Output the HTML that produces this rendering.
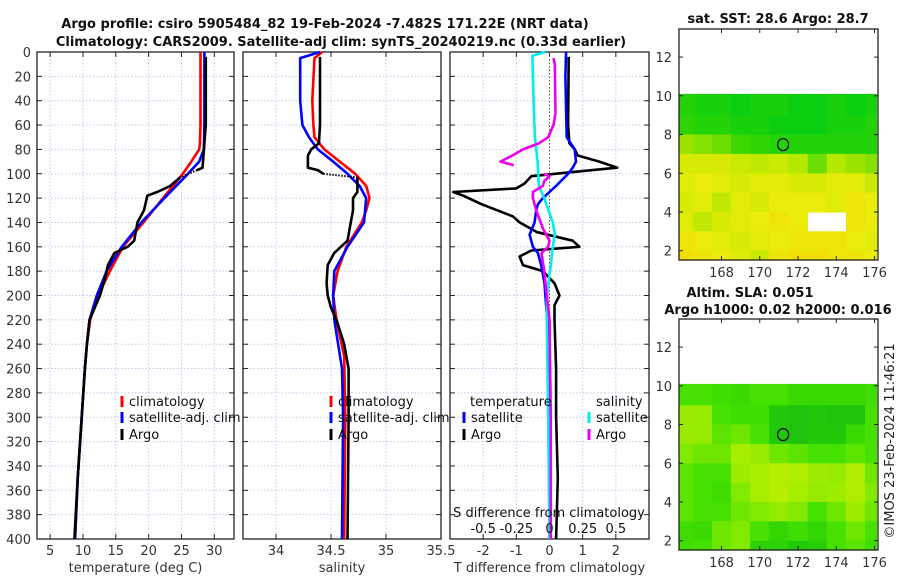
<!DOCTYPE html>
<html><head><meta charset="utf-8"><style>
html,body{margin:0;padding:0;background:#fff;}
svg text{font-family:"DejaVu Sans","Liberation Sans",sans-serif;}
</style></head><body>
<svg id="fig" xmlns="http://www.w3.org/2000/svg" width="900" height="580" viewBox="0 0 900 580">
<rect width="900" height="580" fill="#fff"/>
<text x="325" y="28" font-size="13" font-weight="bold" text-anchor="middle" fill="#111">Argo profile: csiro 5905484_82 19-Feb-2024 -7.482S 171.22E (NRT data)</text>
<text x="341" y="46" font-size="13" font-weight="bold" text-anchor="middle" fill="#111">Climatology: CARS2009. Satellite-adj clim: synTS_20240219.nc (0.33d earlier)</text>
<g id="g"></g>
<text x="778" y="23" font-size="13" font-weight="bold" text-anchor="middle" fill="#111">sat. SST: 28.6 Argo: 28.7</text>
<text x="750" y="297" font-size="13" font-weight="bold" text-anchor="middle" fill="#111">Altim. SLA: 0.051</text>
<text x="778" y="314" font-size="13" font-weight="bold" text-anchor="middle" fill="#111">Argo h1000: 0.02 h2000: 0.016</text>
<text x="0" y="0" font-size="13" text-anchor="middle" fill="#222" transform="translate(894,441) rotate(-90)">©IMOS 23-Feb-2024 11:46:21</text>
</svg>
<script>
// ---- profile data (depth in m) ----
const tClimDepth = [0,60,75,80,90,100,120,140,160,180,200,220,240,260,300,350,400];
const tClimVal   = [27.9,27.9,27.8,27.7,26.5,25.2,22.2,19.2,16.1,14.1,12.3,11.1,10.6,10.3,9.8,9.2,8.8];
const tSatDepth  = [0,60,80,90,100,120,140,160,180,200,220,240,260,300,350,400];
const tSatVal    = [28.5,28.5,28.4,27.7,26.0,22.4,18.9,15.9,13.6,12.1,11.0,10.6,10.3,9.8,9.2,8.8];
const tArgoDepth = [4,60,95,97,103,110,115,118,130,140,155,160,165,175,185,200,220,240,260,300,350,400];
const tArgoVal   = [28.7,28.7,28.2,27.4,24.8,23.3,21.3,19.8,19.3,18.3,17.8,16.8,14.8,13.8,13.4,12.6,11.0,10.6,10.3,9.8,9.2,8.7];

const sClimDepth = [0,5,40,60,70,80,90,100,110,120,130,140,160,180,200,220,250,300,400];
const sClimVal   = [34.42,34.35,34.33,34.34,34.35,34.44,34.58,34.72,34.82,34.85,34.82,34.78,34.64,34.56,34.52,34.55,34.62,34.63,34.62];
const sSatDepth  = [0,5,40,60,70,80,90,100,110,120,140,160,180,200,220,260,300,400];
const sSatVal    = [34.40,34.22,34.22,34.24,34.30,34.38,34.52,34.65,34.76,34.82,34.80,34.65,34.53,34.52,34.53,34.60,34.61,34.60];
const sArgoDepth = [4,60,75,80,85,95,97,100,103,115,120,130,140,155,165,175,190,200,210,220,240,260,300,400];
const sArgoVal   = [34.40,34.40,34.39,34.32,34.29,34.29,34.38,34.43,34.74,34.74,34.70,34.70,34.68,34.65,34.53,34.47,34.46,34.47,34.50,34.55,34.62,34.66,34.66,34.65];

const dTSatDepth = [0,20,70,80,90,95,100,110,120,125,130,140,150,160,165,175,190,220,300,400];
const dTSatVal   = [0.5,0.48,0.52,0.76,0.8,0.7,0.56,0.2,-0.2,-0.35,-0.4,-0.45,-0.6,-0.5,-0.35,-0.25,-0.15,-0.07,-0.02,0.0];
const dTArgoDepth = [4,60,75,80,85,90,95,97,102,108,112,115,118,125,135,140,148,155,160,163,168,175,180,190,200,208,220,260,300,350,400];
const dTArgoVal   = [0.58,0.56,0.6,0.76,0.85,1.5,2.04,1.3,-0.55,-0.75,-1.0,-2.9,-2.6,-2.05,-1.1,-0.9,-0.37,0.7,0.9,-0.55,-0.9,-0.8,-0.2,0.15,0.3,0.15,0.15,0.2,0.2,0.25,0.2];
const dSSatDepth = [0,3,40,70,90,110,120,140,150,160,175,200,220,300,400];
const dSSatVal   = [-0.03,-0.13,-0.12,-0.11,-0.09,-0.08,-0.04,0.025,0.04,0.025,0.01,-0.02,-0.02,-0.01,0.0];
const dSArgoDepth = [5,10,50,60,70,75,80,85,90,93];
const dSArgoVal   = [0.03,0.04,0.045,0.03,-0.01,-0.08,-0.2,-0.28,-0.37,-0.27];
const dSArgo2Depth = [100,102,106,110,115,120,130,145,155,160,165,180,200,220,300,400];
const dSArgo2Val   = [-0.04,0.0,-0.04,-0.05,-0.125,-0.125,-0.1,-0.05,0.0,-0.01,-0.06,-0.04,-0.02,0.0,0.01,0.01];

const depthTicks = [0,20,40,60,80,100,120,140,160,180,200,220,240,260,280,300,320,340,360,380,400];
const tTicks = [5,10,15,20,25,30];
const sTicks = [34,34.5,35,35.5];
const dTicks = [-2,-1,0,1,2];
const dSTickLabels = ["-0.5","-0.25","0","0.25","0.5"];
const dSTickVals = [-0.5,-0.25,0,0.25,0.5];

// ---- map data: rows lat bands from 10.1 down to 1.52, cols lon 166..176 ----
const mapLons = [166,167,168,169,170,171,172,173,174,175,176];
const mapLatEdges = [10.1,9,8,7,6,5,4,3,2,1.52];
const sstGrid = [
 [0.85,0.9,0.9,0.95,0.9,0.9,0.95,0.95,0.9,0.95,0.9],
 [0.8,0.85,0.85,0.9,0.9,0.95,0.95,0.95,0.9,0.9,0.85],
 [0.55,0.6,0.65,0.75,0.8,0.85,0.85,0.85,0.85,0.85,0.85],
 [0.35,0.35,0.35,0.4,0.45,0.4,0.5,0.65,0.5,0.55,0.6],
 [0.3,0.25,0.3,0.35,0.3,0.3,0.35,0.35,0.3,0.3,0.4],
 [0.35,0.3,0.45,0.3,0.35,0.25,0.25,0.25,0.3,0.2,0.25],
 [0.3,0.45,0.35,0.3,0.25,0.2,0.25,null,null,0.2,0.25],
 [0.2,0.25,0.3,0.35,0.3,0.25,0.2,0.2,0.2,0.25,0.3],
 [0.15,0.2,0.25,0.3,0.4,0.2,0.15,0.15,0.2,0.2,0.25]];
const slaGrid = [
 [0.5,0.5,0.55,0.6,0.5,0.5,0.6,0.6,0.6,0.6,0.55],
 [0.3,0.3,0.5,0.55,0.55,0.8,0.85,0.8,0.85,0.85,0.5],
 [0.3,0.3,0.45,0.4,0.5,0.8,0.85,0.8,0.8,0.6,0.5],
 [0.35,0.4,0.4,0.2,0.3,0.4,0.45,0.5,0.5,0.45,0.5],
 [0.45,0.5,0.5,0.25,0.2,0.1,0.15,0.25,0.3,0.15,0.4],
 [0.45,0.5,0.55,0.35,0.2,0.1,0.2,0.3,0.25,0.15,0.35],
 [0.45,0.5,0.5,0.4,0.35,0.3,0.35,0.5,0.4,0.25,0.4],
 [0.55,0.6,0.4,0.35,0.5,0.65,0.55,0.65,0.5,0.4,0.5],
 [0.55,0.5,0.4,0.35,0.7,0.7,0.8,0.75,0.5,0.45,0.55]];
const argoLon = 171.22, argoLat = 7.48;
const mapXTicks = [168,170,172,174,176];
const mapYTicks = [2,4,6,8,10,12];

const NS="http://www.w3.org/2000/svg";
const G=document.getElementById('g');
function mk(tag,attrs,parent){const e=document.createElementNS(NS,tag);for(const k in attrs)e.setAttribute(k,attrs[k]);(parent||G).appendChild(e);return e;}
const Y0=52,Y1=539;
function dy(d){return Y0+(d/400)*(Y1-Y0);}
function lin(a,b,p,q){return v=>p+(v-a)/(b-a)*(q-p);}
const panels=[
 {name:'temperature',x0:37,x1:234,lo:3,hi:33,ticks:tTicks,lab:'temperature (deg C)'},
 {name:'salinity',x0:243,x1:441,lo:33.7,hi:35.5,ticks:sTicks,lab:'salinity'},
 {name:'difference',x0:450,x1:649,lo:-3,hi:3,ticks:dTicks,lab:'T difference from climatology'}];
panels.forEach((p,pi)=>{
  p.sx=lin(p.lo,p.hi,p.x0,p.x1);
  const ax=mk('g',{});
  
  
  p.ticks.forEach(t=>{const x=p.sx(t);
    mk('line',{x1:x,x2:x,y1:Y0,y2:Y1,stroke:'#c4c8e6','stroke-width':1,'stroke-dasharray':'1.5 2'},ax);
    mk('line',{x1:x,x2:x,y1:Y1,y2:Y1-5,stroke:'#222'},ax);mk('line',{x1:x,x2:x,y1:Y0,y2:Y0+5,stroke:'#222'},ax);
    const tl=mk('text',{x:x,y:555,'font-size':13,'text-anchor':'middle',fill:'#333'},ax);tl.textContent=String(t);
    
    });
  depthTicks.forEach(d=>{const y=dy(d);
    mk('line',{x1:p.x0,x2:p.x1,y1:y,y2:y,stroke:'#c4c8e6','stroke-width':1,'stroke-dasharray':'1.5 2'},ax);
    mk('line',{x1:p.x0,x2:p.x0+5,y1:y,y2:y,stroke:'#222'},ax);mk('line',{x1:p.x1,x2:p.x1-5,y1:y,y2:y,stroke:'#222'},ax);
    if(pi===0){const tl=mk('text',{x:31,y:y+5,'font-size':13,'text-anchor':'end',fill:'#333'},ax);tl.textContent=String(d);
      
      }});
  mk('rect',{x:p.x0,y:Y0,width:p.x1-p.x0,height:Y1-Y0,fill:'none',stroke:'#222','stroke-width':1.3},ax);
  const lb=mk('text',{x:(p.x0+p.x1)/2,y:572,'font-size':13,'text-anchor':'middle',fill:'#333'},ax);lb.textContent=p.lab;
  
  
});
// draw polyline from index a to b (inclusive); dotted if dash given
function seg(p,depths,vals,a,b,color,name,scale,dash){
  const s=scale||1;
  const pts=[];
  for(let i=a;i<=b;i++)pts.push(p.sx(vals[i]*s).toFixed(1)+','+dy(depths[i]).toFixed(1));
  const e=mk('polyline',{points:pts.join(' '),fill:'none',stroke:color,'stroke-width':dash?2:2.6,'stroke-linejoin':'round'});
  if(dash)e.setAttribute('stroke-dasharray',dash);
  
  
}
function line(p,depths,vals,color,name,scale){seg(p,depths,vals,0,depths.length-1,color,name,scale);}
// line with dotted gap at depths between gapA and gapB
function gapLine(p,depths,vals,gapA,gapB,color,name,scale){
  const ia=depths.findIndex(d=>d>=gapA), ib=depths.findIndex(d=>d>=gapB);
  seg(p,depths,vals,0,ia,color,name+'-upper',scale);
  seg(p,depths,vals,ia,ib,color,name+'-gap',scale,'1.5 1.5');
  seg(p,depths,vals,ib,depths.length-1,color,name+'-lower',scale);
}
const P1=panels[0],P2=panels[1],P3=panels[2];
const z=mk('line',{x1:P3.sx(0),x2:P3.sx(0),y1:Y0,y2:Y1,stroke:'#555533','stroke-width':1,'stroke-dasharray':'1.5 2'});


line(P1,tClimDepth,tClimVal,'#ff0000','temperature-climatology-line');
line(P1,tSatDepth,tSatVal,'#0000ff','temperature-satellite-line');
gapLine(P1,tArgoDepth,tArgoVal,97,103,'#000000','temperature-argo-line');
line(P2,sClimDepth,sClimVal,'#ff0000','salinity-climatology-line');
line(P2,sSatDepth,sSatVal,'#0000ff','salinity-satellite-line');
gapLine(P2,sArgoDepth,sArgoVal,100,103,'#000000','salinity-argo-line');
line(P3,dTArgoDepth,dTArgoVal,'#000000','t-diff-argo-line');
line(P3,dTSatDepth,dTSatVal,'#0000ff','t-diff-satellite-line');
line(P3,dSSatDepth,dSSatVal,'#00eeee','s-diff-satellite-line',4);
line(P3,dSArgoDepth,dSArgoVal,'#ee00ee','s-diff-argo-line-upper',4);
line(P3,dSArgo2Depth,dSArgo2Val,'#ee00ee','s-diff-argo-line-lower',4);
const st=mk('text',{x:549,y:517,'font-size':13,'text-anchor':'middle',fill:'#111'});st.textContent='S difference from climatology';


dSTickVals.forEach((v,i)=>{const t=mk('text',{x:P3.sx(v*4),y:533,'font-size':13,'text-anchor':'middle',fill:'#111'});t.textContent=dSTickLabels[i];
  
  });
function legend(x,y,color,label,name){
  const g=mk('g',{});
  
  
  if(color)mk('line',{x1:x,x2:x,y1:y-10,y2:y+1,stroke:color,'stroke-width':3},g);
  const t=mk('text',{x:x+7,y:y,'font-size':13,fill:'#111'},g);t.textContent=label;
}
[122,331].forEach(bx=>{
  legend(bx,406,'#ff0000','climatology','legend-climatology');
  legend(bx,422,'#0000ff','satellite-adj. clim','legend-satellite-adj');
  legend(bx,439,'#000000','Argo','legend-argo');});
legend(463,406,null,'temperature','legend-temperature-header');
legend(464,422,'#0000ff','satellite','legend-t-satellite');
legend(464,439,'#000000','Argo','legend-t-argo');
legend(589,406,null,'salinity','legend-salinity-header');
legend(589,422,'#00eeee','satellite','legend-s-satellite');
legend(589,439,'#ee00ee','Argo','legend-s-argo');

// ---- maps ----
function mix(a,b,t){return a.map((v,i)=>Math.round(v+(b[i]-v)*t));}
function ramp(stops,v){for(let i=1;i<stops.length;i++){if(v<=stops[i][0]){const t=(v-stops[i-1][0])/(stops[i][0]-stops[i-1][0]);const c=mix(stops[i-1][1],stops[i][1],t);return 'rgb('+c.join(',')+')';}}const c=stops[stops.length-1][1];return 'rgb('+c.join(',')+')';}
const sstStops=[[0,[245,200,0]],[0.25,[236,236,10]],[0.5,[180,232,0]],[0.75,[60,214,0]],[1,[0,204,20]]];
const slaStops=[[0,[200,240,0]],[0.3,[150,235,0]],[0.5,[70,225,0]],[0.8,[34,200,10]],[1,[20,180,20]]];
function drawMap(name,x0,x1,y0,y1,grid,stops){
  const lonS=lin(165.78,176.18,x0,x1), latS=lin(1.52,13.45,y1,y0);
  const g=mk('g',{});
  
  
  grid.forEach((row,r)=>row.forEach((v,c)=>{
    if(v===null)return;
    const la=Math.max(mapLons[c]-0.5,165.78), lb=Math.min(mapLons[c]+0.5,176.1);
    const xa=lonS(la), xb=lonS(lb), ya=latS(mapLatEdges[r]), yb=latS(mapLatEdges[r+1]);
    const cell=mk('rect',{x:xa.toFixed(1),y:ya.toFixed(1),width:(xb-xa+0.6).toFixed(1),height:(yb-ya+0.6).toFixed(1),fill:ramp(stops,v)},g);
    
    
  }));
  mapXTicks.forEach(t=>{const x=lonS(t);mk('line',{x1:x,x2:x,y1:y1,y2:y1-4,stroke:'#222'},g);mk('line',{x1:x,x2:x,y1:y0,y2:y0+4,stroke:'#222'},g);
    const tl=mk('text',{x:x,y:y1+17,'font-size':13,'text-anchor':'middle',fill:'#333'},g);tl.textContent=String(t);
    
    });
  mapYTicks.forEach(t=>{const y=latS(t);mk('line',{x1:x0,x2:x0+4,y1:y,y2:y,stroke:'#222'},g);mk('line',{x1:x1,x2:x1-4,y1:y,y2:y,stroke:'#222'},g);
    const tl=mk('text',{x:x0-7,y:y+5,'font-size':13,'text-anchor':'end',fill:'#333'},g);tl.textContent=String(t);
    
    });
  const m=mk('ellipse',{cx:lonS(argoLon),cy:latS(argoLat),rx:5.5,ry:6,fill:'none',stroke:'#000','stroke-width':1.2},g);
  
  
  mk('rect',{x:x0,y:y0,width:x1-x0,height:y1-y0,fill:'none',stroke:'#222','stroke-width':1.3},g);
}
drawMap('sst-map',679,878,29,260,sstGrid,sstStops);
drawMap('sla-map',679,878,319,550,slaGrid,slaStops);
</script>
</body></html>
